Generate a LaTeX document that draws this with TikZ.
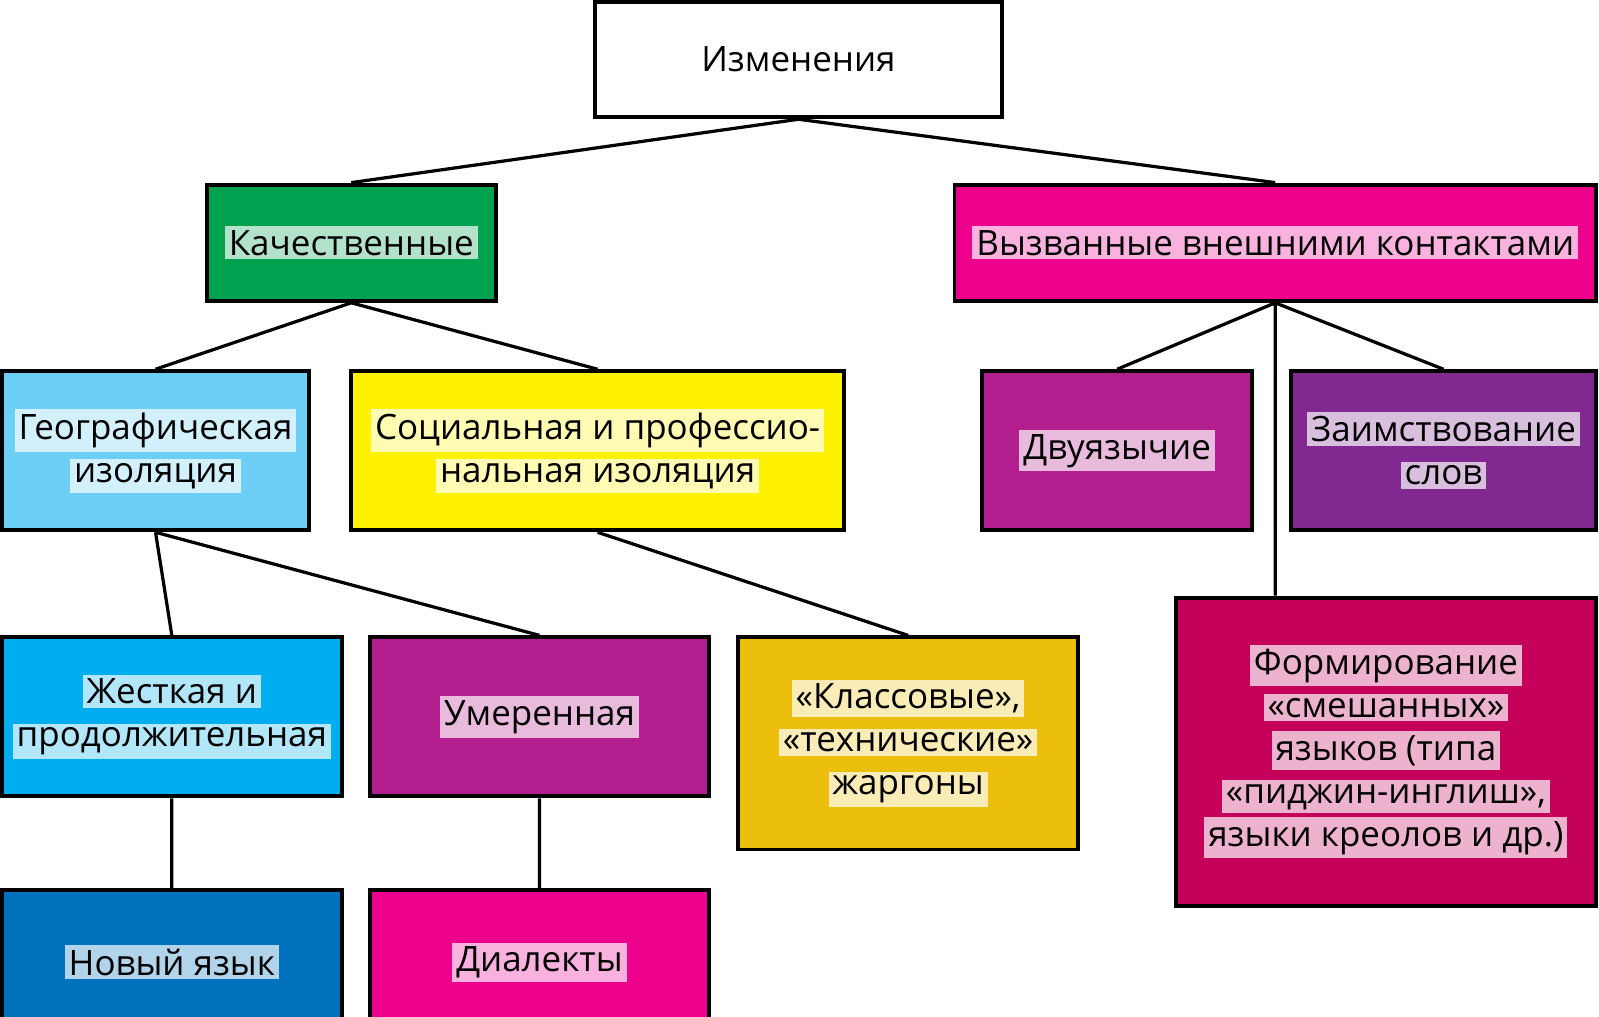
\documentclass[tikz,border=0pt]{standalone}
\usepackage{fontspec}
\setmainfont{Open Sans}

\definecolor{cKach}{HTML}{00A14F}
\definecolor{cVyz}{HTML}{EC008C}
\definecolor{cGeo}{HTML}{6DCFF6}
\definecolor{cSoc}{HTML}{FFF200}
\definecolor{cDvu}{HTML}{B21E8D}
\definecolor{cZaim}{HTML}{812990}
\definecolor{cZhes}{HTML}{00AEEF}
\definecolor{cKlass}{HTML}{EBBF0C}
\definecolor{cForm}{HTML}{C4005A}
\definecolor{cNovy}{HTML}{0071BC}
\definecolor{cDial}{HTML}{EC008C}

% text on a light patch of the box colour
\newcommand{\glow}[2]{{\setlength{\fboxsep}{2.2pt}\colorbox{#1!30!white}{#2}}}

\tikzset{
	box/.style={draw=black, line width=2.2pt, rectangle, inner sep=0pt,
		align=center, font=\fontsize{19.5}{24}\selectfont},
	link/.style={draw=black, line width=1.8pt},
}

\begin{document}
\begin{tikzpicture}

	\useasboundingbox (0,0) rectangle (31.36,-19.94);

	% top
	\node[box, fill=white, minimum width=8cm, minimum height=2.26cm]
		(izm) at (15.66,-1.17) {Изменения};

	% level 1
	\node[box, fill=cKach, minimum width=5.66cm, minimum height=2.28cm]
		(kach) at (6.89,-4.76) {\glow{cKach}{Качественные}};
	\node[box, fill=cVyz, minimum width=12.58cm, minimum height=2.28cm]
		(vyz) at (25.01,-4.76) {\glow{cVyz}{Вызванные внешними контактами}};

	% level 2
	\node[box, fill=cGeo, minimum width=6.02cm, minimum height=3.12cm]
		(geo) at (3.05,-8.84)
		{\glow{cGeo}{Географическая}\\\glow{cGeo}{изоляция}};
	\node[box, fill=cSoc, minimum width=9.68cm, minimum height=3.12cm]
		(soc) at (11.72,-8.84)
		{\glow{cSoc}{Социальная и профессио-}\\\glow{cSoc}{нальная изоляция}};
	\node[box, fill=cDvu, minimum width=5.3cm, minimum height=3.12cm]
		(dvu) at (21.91,-8.84) {\glow{cDvu}{Двуязычие}};
	\node[box, fill=cZaim, minimum width=5.98cm, minimum height=3.12cm]
		(zaim) at (28.31,-8.84)
		{\glow{cZaim}{Заимствование}\\\glow{cZaim}{слов}};

	% level 3
	\node[box, fill=cZhes, minimum width=6.66cm, minimum height=3.12cm]
		(zhes) at (3.37,-14.06)
		{\glow{cZhes}{Жесткая и}\\\glow{cZhes}{продолжительная}};
	\node[box, fill=cDvu, minimum width=6.64cm, minimum height=3.12cm]
		(umer) at (10.58,-14.06) {\glow{cDvu}{Умеренная}};
	\node[box, fill=cKlass, minimum width=6.66cm, minimum height=4.16cm]
		(klass) at (17.81,-14.58)
		{\glow{cKlass}{«Классовые»,}\\\glow{cKlass}{«технические»}\\\glow{cKlass}{жаргоны}};
	\node[box, fill=cForm, minimum width=8.24cm, minimum height=6.04cm]
		(form) at (27.18,-14.74)
		{\glow{cForm}{Формирование}\\\glow{cForm}{«смешанных»}\\
		 \glow{cForm}{языков (типа}\\\glow{cForm}{«пиджин-инглиш»,}\\
		 \glow{cForm}{языки креолов и др.)}};

	% level 4
	\node[box, fill=cNovy, minimum width=6.66cm, minimum height=2.82cm]
		(novy) at (3.37,-18.87) {\glow{cNovy}{Новый язык}};
	\node[box, fill=cDial, minimum width=6.64cm, minimum height=2.82cm]
		(dial) at (10.58,-18.87) {\glow{cDial}{Диалекты}};

	\draw [link]
		% top to level 1
		(izm.south) -- (kach.north)
		(izm.south) -- (vyz.north)
		% left branch
		(kach.south) -- (geo.north)
		(kach.south) -- (soc.north)
		(geo.south) -- (zhes.north)
		(geo.south) -- (umer.north)
		(soc.south) -- (klass.north)
		(zhes.south) -- (novy.north)
		(umer.south) -- (dial.north)
		% right branch
		(vyz.south) -- (dvu.north)
		(vyz.south) -- (zaim.north)
		(vyz.south) -- (vyz.south |- form.north)
		; % keep

\end{tikzpicture}
\end{document}
